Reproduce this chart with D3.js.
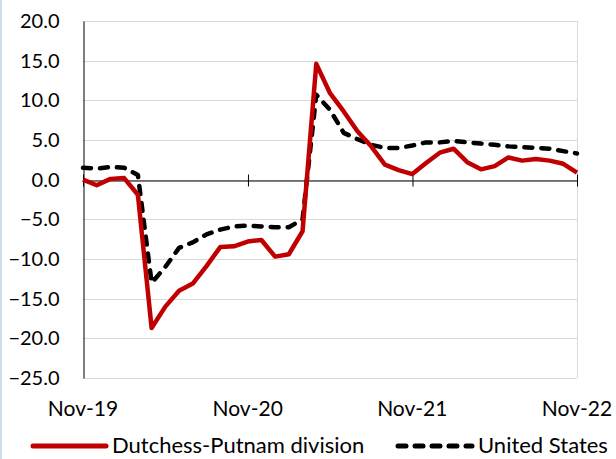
<!DOCTYPE html>
<html>
<head>
<meta charset="utf-8">
<script src="https://cdn.jsdelivr.net/npm/d3@7"></script>
<style>
  html, body { margin: 0; padding: 0; background: white; }
  svg { display: block; font-family: Lato, "Open Sans", sans-serif; }
</style>
</head>
<body>
<div id="chart"></div>
<script>
"use strict"

// monthly, Nov-19 .. Nov-22
const startMonth = new Date(2019, 10, 1)
const dutchess = [
  0.0, -0.7, 0.1, 0.2, -1.9, -18.7, -16.0, -14.0, -13.1, -10.9, -8.5, -8.4, -7.8,
  -7.6, -9.7, -9.4, -6.5, 14.6, 10.9, 8.6, 6.1, 4.2, 1.9, 1.2, 0.7,
  2.1, 3.4, 3.9, 2.2, 1.3, 1.7, 2.8, 2.4, 2.6, 2.4, 2.0, 0.9
]
const unitedStates = [
  1.5, 1.4, 1.6, 1.5, 0.6, -13.0, -11.0, -8.6, -7.9, -6.9, -6.3, -5.9, -5.8,
  -5.9, -6.0, -6.0, -5.0, 10.7, 8.8, 5.9, 5.1, 4.4, 4.0, 4.0, 4.3,
  4.7, 4.7, 4.9, 4.7, 4.55, 4.4, 4.2, 4.1, 4.0, 3.9, 3.6, 3.3
]
const seriesNames = ["Dutchess-Putnam division", "United States"]
const yTicks = [20, 15, 10, 5, 0, -5, -10, -15, -20, -25]
const xTickDates = [new Date(2019, 10, 1), new Date(2020, 10, 1), new Date(2021, 10, 1), new Date(2022, 10, 1)]

const months = dutchess.map((d, i) => d3.timeMonth.offset(startMonth, i))

const width = 616, height = 459
const margin = {top: 21, right: 39, bottom: 81, left: 83}

const svg = d3.select("#chart").append("svg")
  .attr("width", width)
  .attr("height", height)

// thin blue edge on the left like the original frame
svg.append("rect").attr("x", 0).attr("y", 0).attr("width", 2).attr("height", height).attr("fill", "#cfdcf0")

const x = d3.scaleLinear()
  .domain([0, months.length - 1])
  .range([margin.left, width - margin.right])
const xOfDate = d => x(d3.timeMonth.count(startMonth, d))

const y = d3.scaleLinear()
  .domain([-25, 20])
  .range([height - margin.bottom, margin.top])

// gridlines
svg.append("g")
  .selectAll("line")
  .data(yTicks)
  .join("line")
    .attr("x1", margin.left)
    .attr("x2", width - margin.right)
    .attr("y1", d => Math.round(y(d)) + 0.5)
    .attr("y2", d => Math.round(y(d)) + 0.5)
    .attr("stroke", "#d9d9d9")
    .attr("stroke-width", 1)

// right frame edge
svg.append("line")
  .attr("x1", width - margin.right + 0.5).attr("x2", width - margin.right + 0.5)
  .attr("y1", margin.top).attr("y2", height - margin.bottom)
  .attr("stroke", "#d9d9d9")

// y axis
const yAxis = d3.axisLeft(y)
  .tickValues(yTicks)
  .tickFormat(d3.format(".1f"))
  .tickSize(0)
  .tickPadding(24)

svg.append("g")
  .attr("transform", `translate(${margin.left + 0.5},0)`)
  .call(yAxis)
  .call(g => g.select(".domain").attr("stroke", "#000"))
  .call(g => g.selectAll("text")
    .attr("font-family", "Lato, sans-serif")
    .attr("font-size", 20)
    .attr("fill", "#000"))

// x axis on zero line, cross ticks
const xAxis = d3.axisBottom(d3.scaleTime().domain([months[0], months[months.length - 1]]).range([x(0), x(months.length - 1)]))
  .tickValues(xTickDates)
  .tickSize(6)
  .tickSizeOuter(0)
  .tickFormat(() => "")

const zeroAxis = svg.append("g")
  .attr("transform", `translate(0,${Math.round(y(0)) + 0.5})`)
  .call(xAxis)
zeroAxis.select(".domain").attr("stroke", "#000")
zeroAxis.selectAll(".tick line").attr("y1", -6).attr("y2", 6).attr("stroke", "#000")

// x labels at bottom
svg.append("g")
  .selectAll("text")
  .data(xTickDates)
  .join("text")
    .attr("x", d => xOfDate(d))
    .attr("y", 416)
    .attr("text-anchor", "middle")
    .attr("font-size", 21)
    .attr("fill", "#000")
    .text(d3.timeFormat("%b-%y"))

const line = d3.line()
  .x((d, i) => x(i))
  .y(d => y(d))

svg.append("path")
  .datum(unitedStates)
  .attr("d", line)
  .attr("fill", "none")
  .attr("stroke", "#000")
  .attr("stroke-width", 4.5)
  .attr("stroke-dasharray", "8,9")
  .attr("stroke-linecap", "round")
  .attr("stroke-linejoin", "round")

svg.append("path")
  .datum(dutchess)
  .attr("d", line)
  .attr("fill", "none")
  .attr("stroke", "#c00000")
  .attr("stroke-width", 4.5)
  .attr("stroke-linejoin", "round")

// legend
const legend = svg.append("g")
const items = [
  {name: seriesNames[0], x0: 33, x1: 106, color: "#c00000", dash: null},
  {name: seriesNames[1], x0: 398, x1: 472, color: "#000", dash: "8,9"}
]
items.forEach(it => {
  legend.append("line")
    .attr("x1", it.x0).attr("x2", it.x1)
    .attr("y1", 446).attr("y2", 446)
    .attr("stroke", it.color)
    .attr("stroke-width", 5)
    .attr("stroke-linecap", "round")
    .attr("stroke-dasharray", it.dash)
  legend.append("text")
    .attr("x", it.x1 + 6)
    .attr("y", 453)
    .attr("font-size", 22)
    .attr("fill", "#000")
    .text(it.name)
})
</script>
</body>
</html>
